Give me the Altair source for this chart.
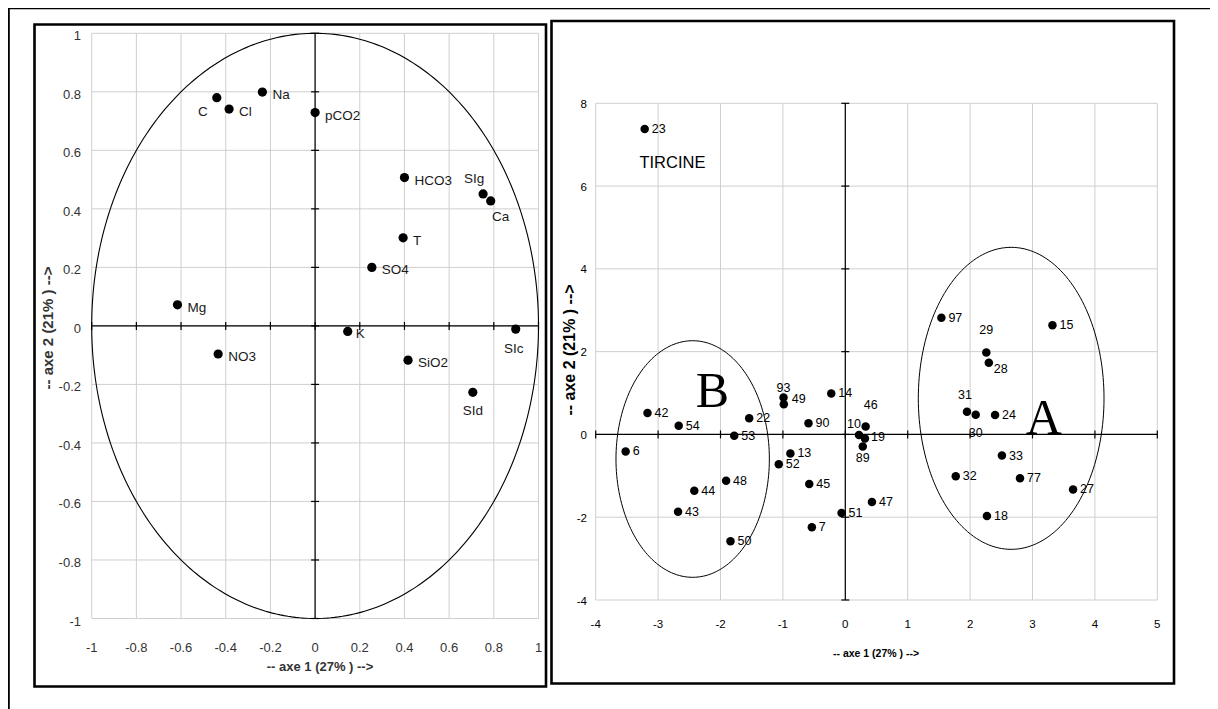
import altair as alt
import numpy as np
import pandas as pd

# ---------------- left panel : correlation circle (variables) ----------------
var_names = ["C", "Cl", "Na", "pCO2", "HCO3", "SIg", "Ca", "T", "SO4", "Mg",
             "K", "SIc", "NO3", "SiO2", "SId"]
var_ax1 = [-0.44, -0.385, -0.236, 0.0, 0.40, 0.752, 0.786, 0.394, 0.254, -0.616,
           0.146, 0.898, -0.434, 0.416, 0.706]
var_ax2 = [0.78, 0.741, 0.799, 0.729, 0.507, 0.451, 0.427, 0.301, 0.20, 0.072,
           -0.019, -0.011, -0.096, -0.117, -0.227]
var_ticks = [-1, -0.8, -0.6, -0.4, -0.2, 0, 0.2, 0.4, 0.6, 0.8, 1]
var_tick_labels = ["-1", "-0.8", "-0.6", "-0.4", "-0.2", "0", "0.2", "0.4", "0.6", "0.8", "1"]

# ---------------- right panel : individuals (samples) ----------------
sample_ids = ["23", "42", "54", "6", "53", "22", "48", "44", "43", "50", "93", "49",
              "90", "14", "13", "52", "45", "7", "51", "47", "10", "46", "19", "89",
              "97", "15", "29", "28", "31", "30", "24", "33", "32", "77", "27", "18"]
sample_ax1 = [-3.215, -3.17, -2.67, -3.52, -1.78, -1.54, -1.91, -2.42, -2.68, -1.84, -0.99, -0.985,
              -0.59, -0.225, -0.88, -1.066, -0.578, -0.536, -0.06, 0.427, 0.22, 0.326, 0.315, 0.28,
              1.54, 3.32, 2.26, 2.30, 1.95, 2.09, 2.40, 2.51, 1.77, 2.80, 3.65, 2.27]
sample_ax2 = [7.38, 0.52, 0.21, -0.41, -0.03, 0.39, -1.12, -1.36, -1.87, -2.58, 0.89, 0.73,
              0.27, 0.99, -0.46, -0.72, -1.195, -2.24, -1.90, -1.63, -0.015, 0.19, -0.10, -0.29,
              2.82, 2.64, 1.98, 1.73, 0.55, 0.475, 0.47, -0.51, -1.01, -1.06, -1.33, -1.97]
score_xticks = [-4, -3, -2, -1, 0, 1, 2, 3, 4, 5]
score_yticks = [-4, -2, 0, 2, 4, 6, 8]

group_names = ["A", "B"]
group_cx = [2.658, -2.446]
group_cy = [0.872, -0.594]
group_rx = [1.488, 1.229]
group_ry = [3.648, 2.858]
group_label_x = [3.18, -2.13]
group_label_y = [0.0, 0.66]

site_names = ["TIRCINE"]
site_x = [-2.77]
site_y = [6.43]

x_title = "-- axe 1 (27% ) -->"
y_title = "-- axe 2 (21% ) -->"

# ---------------- layout (pixels, relative to the plot origin) ----------------
W, H = 1202, 701
SANS = "Liberation Sans, Arial, sans-serif"
SERIF = "Liberation Serif, Times New Roman, serif"
GRID = "#cfcfcf"

xl = alt.Scale(domain=[-1, 1], range=[83.7, 530.5], nice=False, zero=False)
yl = alt.Scale(domain=[-1, 1], range=[610.5, 25.3], nice=False, zero=False)
xr = alt.Scale(domain=[-4, 5], range=[587.7, 1149.3], nice=False, zero=False)
yr = alt.Scale(domain=[-4, 8], range=[592.0, 95.3], nice=False, zero=False)


def X(f, s):
    return alt.X(f, type="quantitative", scale=s, axis=None)


def Y(f, s):
    return alt.Y(f, type="quantitative", scale=s, axis=None)


def grid_layers(ticks_x, ticks_y, xs, ys, xlo, xhi, ylo, yhi):
    gx = pd.DataFrame({"v": ticks_x, "lo": ylo, "hi": yhi})
    gy = pd.DataFrame({"v": ticks_y, "lo": xlo, "hi": xhi})
    vert = alt.Chart(gx).mark_rule(color=GRID, strokeWidth=1).encode(
        x=X("v", xs), y=Y("lo", ys), y2="hi")
    horiz = alt.Chart(gy).mark_rule(color=GRID, strokeWidth=1).encode(
        y=Y("v", ys), x=X("lo", xs), x2="hi")
    zx = pd.DataFrame({"z": [0], "lo": [ylo], "hi": [yhi]})
    zy = pd.DataFrame({"z": [0], "lo": [xlo], "hi": [xhi]})
    axv = alt.Chart(zx).mark_rule(color="black", strokeWidth=1.2).encode(
        x=X("z", xs), y=Y("lo", ys), y2="hi")
    axh = alt.Chart(zy).mark_rule(color="black", strokeWidth=1.2).encode(
        y=Y("z", ys), x=X("lo", xs), x2="hi")
    tx = pd.DataFrame({"v": ticks_x, "z": 0})
    ty = pd.DataFrame({"v": ticks_y, "z": 0})
    ticks_h = alt.Chart(tx).mark_rule(color="black", strokeWidth=1.2, yOffset=-4, y2Offset=4).encode(
        x=X("v", xs), y=Y("z", ys), y2="z")
    ticks_v = alt.Chart(ty).mark_rule(color="black", strokeWidth=1.2, xOffset=-4, x2Offset=4).encode(
        y=Y("v", ys), x=X("z", xs), x2="z")
    return [vert, horiz, axv, axh, ticks_h, ticks_v]


def ellipse_table(names, cx, cy, rx, ry, n=181):
    rows = []
    t = np.linspace(0, 2 * np.pi, n)
    for k, nm in enumerate(names):
        for i, a in enumerate(t):
            rows.append({"g": nm, "i": i,
                         "x": cx[k] + rx[k] * np.cos(a),
                         "y": cy[k] + ry[k] * np.sin(a)})
    return pd.DataFrame(rows)


def label_layers(df, xs, ys, placements, default, size, font, color):
    layers = []
    special = set(placements.keys())
    base = df[~df["name"].isin(special)]
    dx, dy, al = default
    layers.append(alt.Chart(base).mark_text(align=al, baseline="middle", dx=dx, dy=dy,
                                            fontSize=size, font=font, color=color).encode(
        x=X("x", xs), y=Y("y", ys), text="name:N"))
    for nm, (dx, dy, al) in placements.items():
        sub = df[df["name"] == nm]
        layers.append(alt.Chart(sub).mark_text(align=al, baseline="middle", dx=dx, dy=dy,
                                               fontSize=size, font=font, color=color).encode(
            x=X("x", xs), y=Y("y", ys), text="name:N"))
    return layers


# ---------------- left panel layers ----------------
left_layers = grid_layers(var_ticks, var_ticks, xl, yl, -1, 1, -1, 1)

circle = ellipse_table(["circle"], [0], [0], [1], [1], n=361)
left_layers.append(alt.Chart(circle).mark_line(color="black", strokeWidth=1.1).encode(
    x=X("x", xl), y=Y("y", yl), order="i:Q", detail="g:N"))

vdf = pd.DataFrame({"name": var_names, "x": var_ax1, "y": var_ax2})
left_layers.append(alt.Chart(vdf).mark_circle(size=85, color="black", opacity=1).encode(
    x=X("x", xl), y=Y("y", yl)))
left_place = {
    "C": (-14, 14, "center"),
    "SIg": (-9, -15, "center"),
    "Ca": (10, 16, "center"),
    "SIc": (-2, 20, "center"),
    "SId": (0, 19, "center"),
    "K": (8, 3, "left"),
}
left_layers += label_layers(vdf, xl, yl, left_place, (10, 3, "left"), 13.5, SANS, "#1a1a1a")

ltick = pd.DataFrame({"v": var_ticks, "lab": var_tick_labels})
left_layers.append(alt.Chart(ltick).mark_text(align="right", baseline="middle", dy=3,
                                              fontSize=13, font=SANS, color="#333333").encode(
    x=alt.value(73), y=Y("v", yl), text="lab:N"))
left_layers.append(alt.Chart(ltick).mark_text(align="center", baseline="middle",
                                              fontSize=13, font=SANS, color="#333333").encode(
    x=X("v", xl), y=alt.value(640), text="lab:N"))

left_chart = alt.layer(*left_layers)

# ---------------- right panel layers ----------------
right_layers = grid_layers(score_xticks, score_yticks, xr, yr, -4, 5, -4, 8)

ell = ellipse_table(group_names, group_cx, group_cy, group_rx, group_ry)
right_layers.append(alt.Chart(ell).mark_line(color="black", strokeWidth=1).encode(
    x=X("x", xr), y=Y("y", yr), order="i:Q", detail="g:N"))

sdf = pd.DataFrame({"name": sample_ids, "x": sample_ax1, "y": sample_ax2})
right_layers.append(alt.Chart(sdf).mark_circle(size=72, color="black", opacity=1).encode(
    x=X("x", xr), y=Y("y", yr)))
right_place = {
    "93": (0, -10, "center"),
    "49": (8, -5, "left"),
    "46": (5, -22, "center"),
    "10": (-5, -11, "center"),
    "19": (6, -2, "left"),
    "89": (0, 12, "center"),
    "29": (0, -22, "center"),
    "28": (5, 6, "left"),
    "31": (-2, -17, "center"),
    "30": (0, 18, "center"),
}
right_layers += label_layers(sdf, xr, yr, right_place, (7, 0, "left"), 12.5, SANS, "black")

gdf = pd.DataFrame({"name": group_names, "x": group_label_x, "y": group_label_y})
right_layers.append(alt.Chart(gdf).mark_text(align="center", baseline="alphabetic",
                                             fontSize=50, font=SERIF, color="black").encode(
    x=X("x", xr), y=Y("y", yr), text="name:N"))
tdf = pd.DataFrame({"name": site_names, "x": site_x, "y": site_y})
right_layers.append(alt.Chart(tdf).mark_text(align="center", baseline="alphabetic",
                                             fontSize=16.5, font=SANS, color="black").encode(
    x=X("x", xr), y=Y("y", yr), text="name:N"))

rxt = pd.DataFrame({"v": score_xticks, "lab": [str(v) for v in score_xticks]})
ryt = pd.DataFrame({"v": score_yticks, "lab": [str(v) for v in score_yticks]})
right_layers.append(alt.Chart(ryt).mark_text(align="right", baseline="middle", dy=1.5,
                                             fontSize=11.5, font=SANS, color="black").encode(
    x=alt.value(579), y=Y("v", yr), text="lab:N"))
right_layers.append(alt.Chart(rxt).mark_text(align="center", baseline="middle",
                                             fontSize=11.5, font=SANS, color="black").encode(
    x=X("v", xr), y=alt.value(617), text="lab:N"))

right_chart = alt.layer(*right_layers)

# ---------------- frames and axis titles ----------------
one = pd.DataFrame({"k": [0]})
deco = []
deco.append(alt.Chart(one).mark_rule(color="black", strokeWidth=2).encode(
    x=alt.value(0), x2=alt.value(W), y=alt.value(0.3)))
deco.append(alt.Chart(one).mark_rule(color="black", strokeWidth=2).encode(
    x=alt.value(0.8), y=alt.value(0), y2=alt.value(H)))
deco.append(alt.Chart(one).mark_rect(filled=False, stroke="black", strokeWidth=2.6).encode(
    x=alt.value(26.5), x2=alt.value(538), y=alt.value(16.5), y2=alt.value(678.5)))
deco.append(alt.Chart(one).mark_rect(filled=False, stroke="black", strokeWidth=2.6).encode(
    x=alt.value(543.5), x2=alt.value(1166), y=alt.value(13), y2=alt.value(675.5)))

ttl = pd.DataFrame({"xt": [x_title], "yt": [y_title]})
deco.append(alt.Chart(ttl).mark_text(align="center", baseline="middle", fontSize=13,
                                     fontWeight="bold", font=SANS, color="#333333").encode(
    x=alt.value(312), y=alt.value(659), text="xt:N"))
deco.append(alt.Chart(ttl).mark_text(align="center", baseline="middle", fontSize=15, angle=270,
                                     fontWeight="bold", font=SANS, color="#333333").encode(
    x=alt.value(40), y=alt.value(320), text="yt:N"))
deco.append(alt.Chart(ttl).mark_text(align="center", baseline="middle", fontSize=10.5,
                                     fontWeight="bold", font=SANS, color="black").encode(
    x=alt.value(868), y=alt.value(646), text="xt:N"))
deco.append(alt.Chart(ttl).mark_text(align="center", baseline="middle", fontSize=16, angle=270,
                                     fontWeight="bold", font=SANS, color="black").encode(
    x=alt.value(561.5), y=alt.value(342), text="yt:N"))
deco_chart = alt.layer(*deco)

chart = alt.layer(left_chart, right_chart, deco_chart).resolve_scale(
    x="independent", y="independent"
).properties(
    width=W, height=H, padding=0,
    autosize=alt.AutoSizeParams(type="none"),
    background="white",
).configure_view(stroke=None)

chart.save("out.html", embed_options={"renderer": "svg", "actions": False})
